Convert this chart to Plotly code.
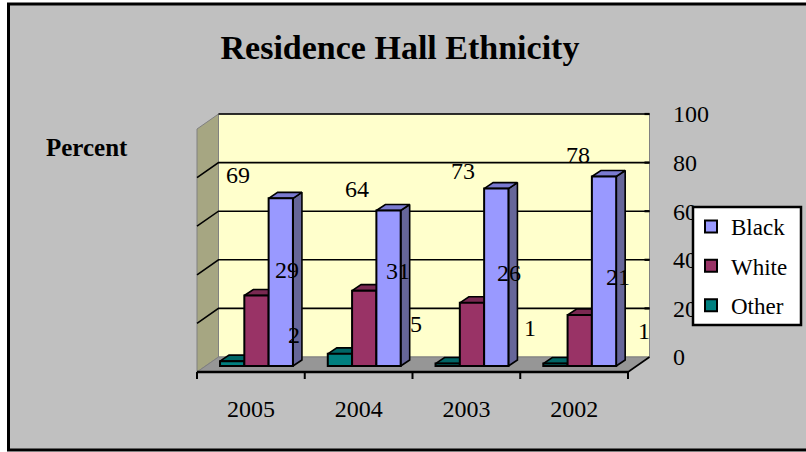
"""Residence hall ethnicity chart, a faux 3D column chart in Plotly."""

import plotly.graph_objects as go

years = ["2005", "2004", "2003", "2002"]
black = [69, 64, 73, 78]
white = [29, 31, 26, 21]
other = [2, 5, 1, 1]
y_ticks = [0, 20, 40, 60, 80, 100]

# nudges in pixels for the data labels, measured from the top centre of each column
black_shift = [(-43, 23), (-32, 21), (-33, 18), (-26, 21)]
white_shift = [(31, 26), (34, 20), (37, 30), (38, 38)]
other_shift = [(62, 26), (76, 30), (82, 36), (89, 33)]

FONT = "Liberation Serif"

# scale of the page: one category is 107.75 px, one percent is 2.43 px
PX_X, PX_Y = 107.75, 2.43
X_RANGE = [-197 / PX_X, (806 - 197) / PX_X]
Y_RANGE = [(357 - 452) / PX_Y, 357 / PX_Y]

# floor depth and column depth in axis units
DEPTH_X, DEPTH_Y = 21.5 / PX_X, 15 / PX_Y
BAR_DX, BAR_DY = 9 / PX_X, 6 / PX_Y
BASE = -9 / PX_Y
BAR_W = 24.3 / PX_X
CENTER = 0.552
N = len(years)


def poly(x, y, fill, line_color="#808080", width=1):
    return go.Scatter(
        x=x, y=y, mode="lines", fill="toself", fillcolor=fill,
        line=dict(color=line_color, width=width),
        hoverinfo="skip", showlegend=False,
    )


def path(x, y, color="black", width=1.6):
    return go.Scatter(
        x=x, y=y, mode="lines", line=dict(color=color, width=width),
        hoverinfo="skip", showlegend=False,
    )


fig = go.Figure()

# walls and floor
fig.add_trace(poly([0, DEPTH_X, DEPTH_X, 0, 0],
                   [-DEPTH_Y, 0, 100, 100 - DEPTH_Y, -DEPTH_Y], "#A6A682"))
fig.add_trace(poly([DEPTH_X, N + DEPTH_X, N + DEPTH_X, DEPTH_X, DEPTH_X],
                   [0, 0, 100, 100, 0], "#FFFFCC"))
fig.add_trace(poly([0, N, N + DEPTH_X, DEPTH_X, 0],
                   [-DEPTH_Y, -DEPTH_Y, 0, 0, -DEPTH_Y], "#969696"))

# gridlines run over the left wall and the back wall
for t in y_ticks[1:]:
    if t == 100:
        fig.add_trace(path([DEPTH_X, N + DEPTH_X], [t, t]))
    else:
        fig.add_trace(path([0, DEPTH_X, N + DEPTH_X], [t - DEPTH_Y, t, t]))
    fig.add_trace(path([N + DEPTH_X - 5 / PX_X, N + DEPTH_X], [t, t], width=2.2))

# front edge of the floor with its tick marks
fig.add_trace(path([N, N + DEPTH_X], [-DEPTH_Y, 0], width=1.6))
fig.add_trace(path([0, N], [-DEPTH_Y, -DEPTH_Y], width=2.4))
for i in range(N + 1):
    fig.add_trace(path([i, i], [-DEPTH_Y, -DEPTH_Y - 7 / PX_Y], width=2))

# side and top faces sit under the front faces, left series first
series = [
    ("Other", other, "#008080", "#004D4D", "#006666", 3),
    ("White", white, "#993366", "#5C1F3D", "#7A2952", 2),
    ("Black", black, "#9999FF", "#666699", "#7A7AD0", 1),
]
for j, (name, vals, front, side, top, rank) in enumerate(series):
    side_x, side_y, top_x, top_y = [], [], [], []
    for i, v in enumerate(vals):
        xl = i + CENTER + (j - 1.5) * BAR_W
        xr = xl + BAR_W
        yt = BASE + v
        side_x += [xr, xr + BAR_DX, xr + BAR_DX, xr, xr, None]
        side_y += [BASE, BASE + BAR_DY, yt + BAR_DY, yt, BASE, None]
        top_x += [xl, xr, xr + BAR_DX, xl + BAR_DX, xl, None]
        top_y += [yt, yt, yt + BAR_DY, yt + BAR_DY, yt, None]
    fig.add_trace(poly(side_x, side_y, side, "black", 1.6))
    fig.add_trace(poly(top_x, top_y, top, "black", 1.6))

# front faces on an overlaid subplot so they hide the faces of the column to their left
x_pos = [i + CENTER for i in range(N)]
for name, vals, front, side, top, rank in series:
    fig.add_trace(go.Bar(
        name=name, x=x_pos, y=vals, base=BASE,
        xaxis="x2", yaxis="y2", legendgroup=name, legendrank=rank,
        marker=dict(color=front, line=dict(color="black", width=2)),
        hoverinfo="skip",
    ))

# data labels
label_sets = [(other, other_shift, 0), (white, white_shift, 1), (black, black_shift, 2)]
for vals, shifts, j in label_sets:
    for i, v in enumerate(vals):
        fig.add_annotation(
            x=i + CENTER + (j - 1) * BAR_W, y=BASE + v, xref="x2", yref="y2",
            text=str(v), showarrow=False,
            xshift=shifts[i][0], yshift=shifts[i][1],
            font=dict(family=FONT, size=24, color="black"),
        )

fig.add_annotation(
    text="<b>Percent</b>", xref="paper", yref="paper", x=87 / 806, y=1 - 147 / 452,
    xanchor="center", yanchor="middle", showarrow=False,
    font=dict(family=FONT, size=25, color="black"),
)

# chart frame
fig.add_shape(
    type="rect", xref="paper", yref="paper", layer="below",
    x0=8.5 / 806, x1=815 / 806, y0=1 - 450 / 452, y1=1 - 4 / 452,
    fillcolor="#C0C0C0", line=dict(color="black", width=3),
)
# legend box, the legend itself is drawn on it without a background
fig.add_shape(
    type="rect", xref="paper", yref="paper", layer="above",
    x0=693 / 806, x1=801 / 806, y0=1 - 325 / 452, y1=1 - 207 / 452,
    fillcolor="white", line=dict(color="black", width=2.5),
)

fig.update_layout(
    width=806,
    height=452,
    margin=dict(l=0, r=0, t=0, b=0),
    paper_bgcolor="white",
    plot_bgcolor="rgba(0,0,0,0)",
    font=dict(family=FONT, size=24, color="black"),
    title=dict(
        text="<b>Residence Hall Ethnicity</b>", x=400 / 806, xanchor="center",
        y=1 - 47 / 452, yanchor="middle", font=dict(family=FONT, size=34, color="black"),
    ),
    barmode="group",
    bargap=1 - 3 * BAR_W,
    bargroupgap=0,
    xaxis=dict(
        range=X_RANGE, domain=[0, 1], anchor="free", position=1 - 392 / 452,
        tickmode="array", tickvals=[i + 0.5 for i in range(N)], ticktext=years,
        showgrid=False, zeroline=False, showline=False, ticks="",
        tickfont=dict(family=FONT, size=24, color="black"),
    ),
    yaxis=dict(
        range=Y_RANGE, domain=[0, 1], anchor="free", position=672 / 806, side="right",
        tickmode="array", tickvals=y_ticks,
        showgrid=False, zeroline=False, showline=False, ticks="",
        tickfont=dict(family=FONT, size=24, color="black"),
    ),
    xaxis2=dict(range=X_RANGE, overlaying="x", anchor="y2", visible=False),
    yaxis2=dict(range=Y_RANGE, overlaying="y", anchor="x2", visible=False),
    legend=dict(
        x=691 / 806, y=1 - 205 / 452, xanchor="left", yanchor="top",
        bgcolor="rgba(0,0,0,0)", borderwidth=0,
        traceorder="grouped", tracegroupgap=6.5,
        font=dict(family=FONT, size=23, color="black"),
    ),
)

# the page margin would push the chart off its place in the window
fig.write_html(
    "out.html",
    config={"displayModeBar": False},
    post_script="document.body.style.margin='0';",
)
